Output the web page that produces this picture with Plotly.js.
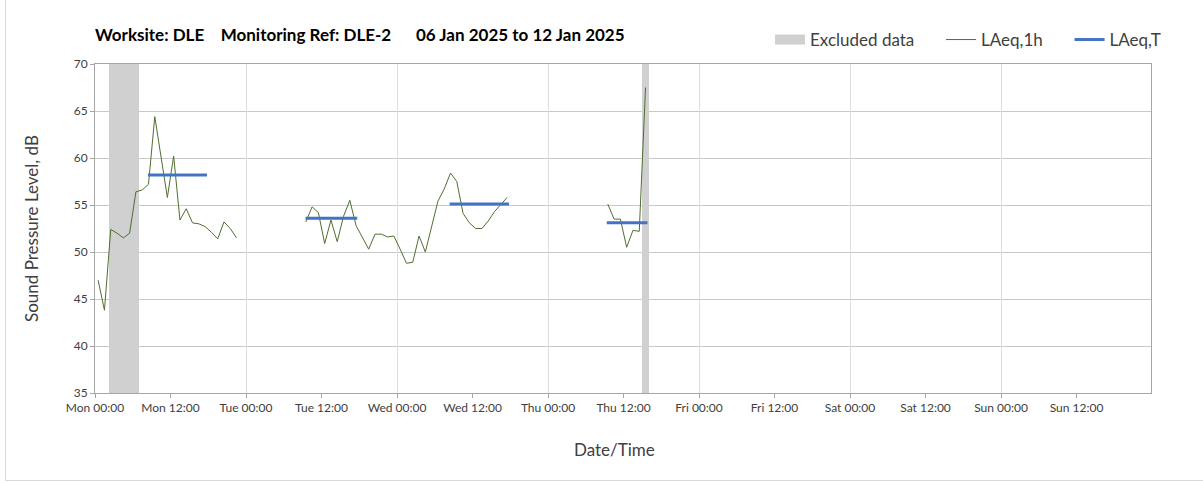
<!DOCTYPE html>
<html>
<head>
<meta charset="utf-8">
<script src="https://cdn.plot.ly/plotly-3.0.1.min.js"></script>
<style>
  html, body { margin: 0; padding: 0; background: #ffffff; overflow: hidden; }
  #chart { width: 1203px; height: 483px; position: relative; }
  #frame { position: absolute; left: 5px; top: -2px; width: 1210px; height: 482px;
           border-left: 1px solid #d9d9d9; border-bottom: 1px solid #d9d9d9; pointer-events: none; }
</style>
</head>
<body>
<div id="chart"></div>
<div id="frame"></div>
<script>
// ---- Data ----
// Hourly LAeq,1h values (points plotted at the middle of each hour)
const seg1Start = '2025-01-06T00:30:00';   // Mon 00:30
const seg1Values = [47.0, 43.8, 52.4, 52.0, 51.5, 52.0, 56.4, 56.6, 57.2, 64.4, 60.1, 55.8,
                    60.2, 53.4, 54.6, 53.1, 53.0, 52.7, 52.1, 51.4, 53.2, 52.5, 51.5];
const seg2Start = '2025-01-07T09:30:00';   // Tue 09:30
const seg2Values = [53.2, 54.8, 54.2, 50.9, 53.4, 51.1, 53.8, 55.5, 52.8, 51.6, 50.3, 51.9,
                    51.9, 51.6, 51.7, 50.3, 48.8, 48.9, 51.7, 50.0, 52.7, 55.4, 56.7, 58.4,
                    57.5, 54.1, 53.1, 52.5, 52.5, 53.3, 54.3, 55.0, 55.8];
const seg3Start = '2025-01-09T09:30:00';   // Thu 09:30
const seg3Values = [55.1, 53.5, 53.5, 50.5, 52.3, 52.2, 67.5];

// LAeq,T periods
const periodStart = ['2025-01-06T08:25:00', '2025-01-07T09:28:00', '2025-01-08T08:22:00', '2025-01-09T09:20:00'];
const periodEnd   = ['2025-01-06T17:48:00', '2025-01-07T17:41:00', '2025-01-08T17:48:00', '2025-01-09T15:48:00'];
const periodValue = [58.2, 53.6, 55.1, 53.1];

// Excluded data windows
const exclStart = ['2025-01-06T02:15:00', '2025-01-09T15:00:00'];
const exclEnd   = ['2025-01-06T07:00:00', '2025-01-09T16:00:00'];

const yMin = 35, yMax = 70;
const NB = '\u00A0';
const titleText = 'Worksite: DLE' + NB.repeat(4) + 'Monitoring Ref: DLE-2' + NB.repeat(6) + '06 Jan 2025 to 12 Jan 2025';
const xTitle = 'Date/Time';
const yTitle = 'Sound Pressure Level, dB';
const seriesNames = ['Excluded data', 'LAeq,1h', 'LAeq,T'];

// ---- Build traces ----
const HOUR = 3600000;
function fmt(ms) {
  const d = new Date(ms);
  const p = n => String(n).padStart(2, '0');
  return d.getUTCFullYear() + '-' + p(d.getUTCMonth() + 1) + '-' + p(d.getUTCDate()) + ' ' +
         p(d.getUTCHours()) + ':' + p(d.getUTCMinutes()) + ':' + p(d.getUTCSeconds());
}
function toMs(s) { return Date.parse(s + 'Z'); }

const lx = [], ly = [];
[[seg1Start, seg1Values], [seg2Start, seg2Values], [seg3Start, seg3Values]].forEach(([start, vals], si) => {
  if (si > 0) { lx.push(fmt(toMs(start) - HOUR / 2)); ly.push(null); }
  vals.forEach((v, i) => { lx.push(fmt(toMs(start) + i * HOUR)); ly.push(v); });
});

const tx = [], ty = [];
periodStart.forEach((s, i) => {
  if (i > 0) { tx.push(null); ty.push(null); }
  tx.push(s.replace('T', ' ')); ty.push(periodValue[i]);
  tx.push(periodEnd[i].replace('T', ' ')); ty.push(periodValue[i]);
});

const bx = [], bw = [];
exclStart.forEach((s, i) => {
  const a = toMs(s), b = toMs(exclEnd[i]);
  bx.push(fmt((a + b) / 2)); bw.push(b - a);
});

const pad = NB.repeat(5);
const exclColor = '#d0d0d0';
const traces = [
  {
    type: 'bar', name: seriesNames[0], x: bx, width: bw,
    y: bx.map(() => yMax - yMin), base: yMin, showlegend: false,
    marker: { color: exclColor, line: { width: 0 } },
    hoverinfo: 'skip'
  },
  { // legend entry for excluded data (wide grey swatch)
    type: 'scatter', mode: 'lines', name: seriesNames[0] + pad, x: [null], y: [null],
    line: { color: exclColor, width: 12 }, hoverinfo: 'skip'
  },
  {
    type: 'scatter', mode: 'lines', name: seriesNames[1] + pad, x: lx, y: ly,
    line: { color: '#4f6f2f', width: 1 }, connectgaps: false
  },
  {
    type: 'scatter', mode: 'lines', name: seriesNames[2], x: tx, y: ty,
    line: { color: '#4472c4', width: 3 }, connectgaps: false
  },
  {
    type: 'scatter', mode: 'lines', x: [], y: [], xaxis: 'x2', showlegend: false, hoverinfo: 'skip'
  }
];

const xRange = ['2025-01-06 00:00:00', '2025-01-12 23:50:00'];
const font = 'Lato, "Open Sans", sans-serif';

const layout = {
  width: 1203, height: 483,
  margin: { l: 95, r: 52, t: 64, b: 90 },
  paper_bgcolor: '#ffffff', plot_bgcolor: '#ffffff',
  font: { family: font, color: '#404040', size: 12 },
  showlegend: true,
  bargap: 0,
  title: {
    text: titleText, x: 95 / 1203, xanchor: 'left', xref: 'container',
    y: 1 - 35 / 483, yanchor: 'middle', yref: 'container',
    font: { family: font, size: 17, color: '#000000', weight: 'bold' }
  },
  legend: {
    orientation: 'h', x: (770 - 95) / 1056, xanchor: 'left', y: 1.073, yanchor: 'middle',
    font: { family: font, size: 17, color: '#404040' }, bgcolor: 'rgba(0,0,0,0)',
    traceorder: 'normal', itemwidth: 30
  },
  annotations: [
    { text: xTitle, xref: 'paper', yref: 'paper', x: (614 - 95) / 1056, y: -(449 - 393) / 329,
      xanchor: 'center', yanchor: 'middle', showarrow: false,
      font: { family: font, size: 17, color: '#404040' } }
  ],
  xaxis: {
    type: 'date', range: xRange, tick0: '2025-01-06 00:00:00', dtick: 12 * HOUR,
    tickformat: '%a %H:%M', ticks: 'outside', ticklen: 4, tickcolor: '#a6a6a6',
    showgrid: false, zeroline: false, showline: true, linecolor: '#a6a6a6', mirror: true,
    tickfont: { family: font, size: 12, color: '#404040' }
  },
  xaxis2: {
    type: 'date', overlaying: 'x', range: xRange, tick0: '2025-01-06 00:00:00', dtick: 24 * HOUR,
    showgrid: true, gridcolor: '#dedede', gridwidth: 1, showticklabels: false, ticks: '',
    zeroline: false, showline: false
  },
  yaxis: {
    range: [yMin, yMax], dtick: 5, tick0: 35, ticks: 'outside', ticklen: 4, tickcolor: '#a6a6a6',
    showgrid: true, gridcolor: '#c8c8c8', zeroline: false, showline: true, linecolor: '#a6a6a6', mirror: true,
    tickfont: { family: font, size: 12, color: '#404040' },
    title: { text: yTitle, font: { family: font, size: 17, color: '#404040' }, standoff: 30 }
  }
};

Plotly.newPlot('chart', traces, layout, { staticPlot: true, displayModeBar: false });
</script>
</body>
</html>
